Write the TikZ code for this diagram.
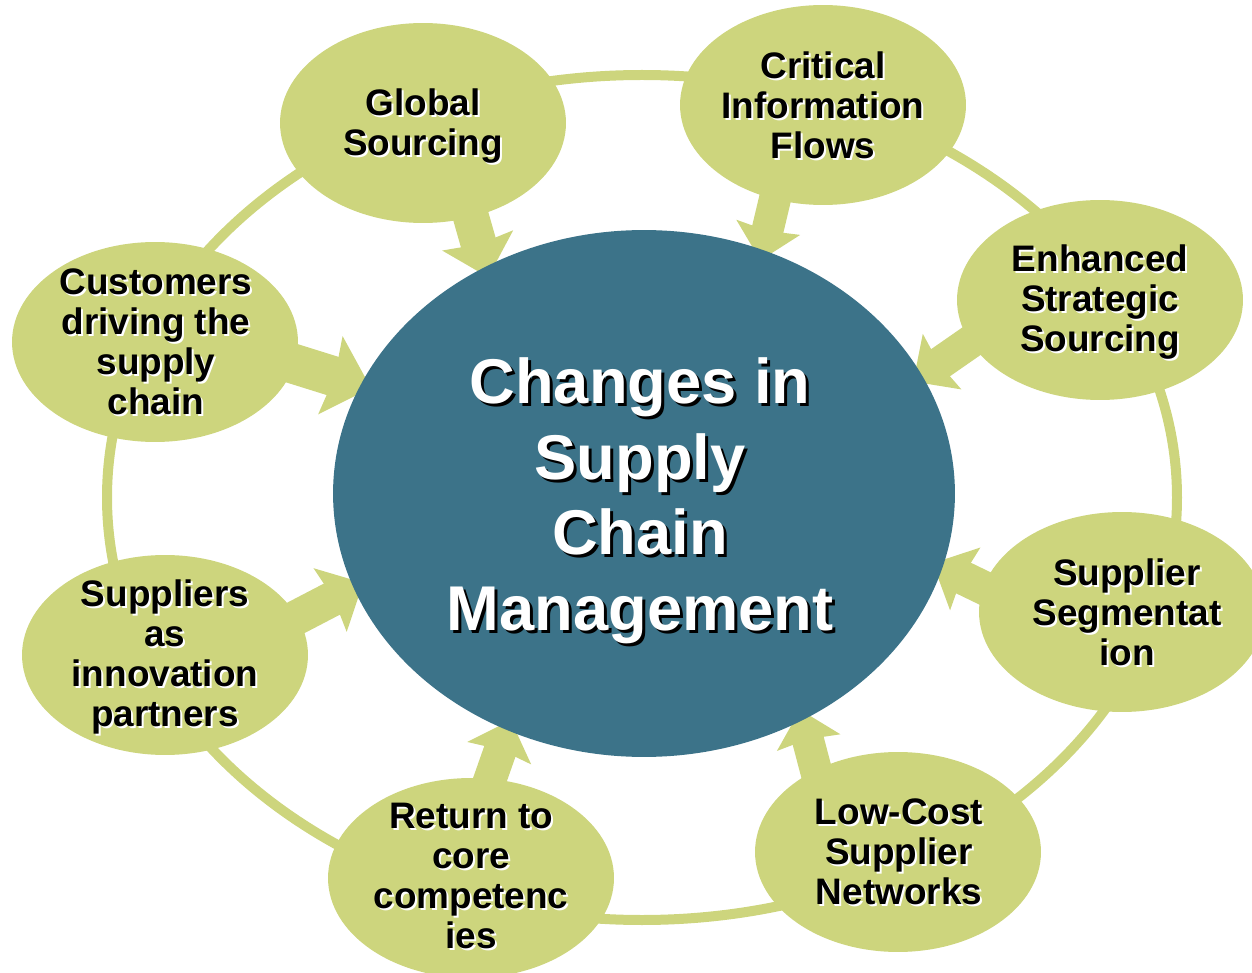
\documentclass[tikz,border=0pt]{standalone}
\usepackage{fontspec}
\setmainfont{Liberation Sans}
\usetikzlibrary{arrows.meta,shapes.geometric}
\definecolor{verde}{HTML}{CDD57D}
\definecolor{petrolio}{HTML}{3C7389}
\pgfdeclarelayer{sotto}
\pgfsetlayers{sotto,main}
\tikzset{
ovale/.style={ellipse,inner sep=0pt,fill=verde,minimum width=5.72cm,minimum height=4cm},
nucleo/.style={ellipse,inner sep=0pt,fill=petrolio,minimum width=12.44cm,minimum height=10.54cm},
anello/.style={draw=verde,line width=0.2cm},
spinta/.style={color=verde,line width=#1*0.02cm,
  -{Stealth[length=0pt 1.05,width=0pt 2.0,inset=0pt 0.1]},
  shorten <=-0.5cm,shorten >=-0.22cm},
testo/.style={align=center,inner sep=0pt,text=black,
  font=\fontsize{21}{22.7}\selectfont\bfseries},
ombra/.style={testo,text=white},
titolo/.style={align=center,inner sep=0pt,text=white,
  font=\fontsize{36}{43}\selectfont\bfseries},
ombratitolo/.style={titolo,text=black}}

\begin{document}
\begin{tikzpicture}[x=0.02cm,y=-0.02cm]

\useasboundingbox (0,0) rectangle (1252,973);

\begin{pgfonlayer}{sotto}
% ring behind everything
\draw[anello] (642,497.5) ellipse [x radius=535,y radius=422.5];

\node[ovale] (gs) at (423,123) {};
\node[ovale] (cif) at (823,105) {};
\node[ovale] (ess) at (1100,300) {};
\node[ovale] (ss) at (1122,612) {};
\node[ovale] (lcs) at (898,852) {};
\node[ovale] (rcc) at (471,878) {};
\node[ovale] (sip) at (165,655) {};
\node[ovale] (cust) at (155,342) {};
\end{pgfonlayer}

\node[nucleo] (scm) at (644,493.5) {};

% arrows, tips hidden under the centre
\begin{pgfonlayer}{sotto}
\path[spinta=36] (gs.-63) edge (scm.125);
\path[spinta=32] (cif.-117) edge (scm.64);
\path[spinta=33] (ess.-162) edge (scm.23);
\path[spinta=34] (ss.170) edge (scm.-14);
\path[spinta=32] (lcs.135) edge (scm.-55);
\path[spinta=33] (rcc.79) edge (scm.-120);
\path[spinta=35] (sip.16) edge (scm.-162);
\path[spinta=40] (cust.-9) edge (scm.159);
\end{pgfonlayer}

% labels
\node[ombratitolo] (scm-o) at ([shift={(3,3)}]640,501) {Changes in\\Supply\\Chain\\Management};
\node[titolo] (scm-t) at (640,501) {Changes in\\Supply\\Chain\\Management};

\node[ombra] (gs-o) at ([shift={(2,5)}]gs) {Global\\Sourcing};
\node[testo] (gs-t) at ([shift={(0,3)}]gs) {Global\\Sourcing};
\node[ombra] (cif-o) at ([shift={(2,2)}]cif) {Critical\\Information\\Flows};
\node[testo] (cif-t) at (cif) {Critical\\Information\\Flows};
\node[ombra] (ess-o) at ([shift={(2,4)}]ess) {Enhanced\\Strategic\\Sourcing};
\node[testo] (ess-t) at ([shift={(0,2)}]ess) {Enhanced\\Strategic\\Sourcing};
\node[ombra] (ss-o) at ([shift={(7,2)}]ss) {Supplier\\Segmentat\\ion};
\node[testo] (ss-t) at ([shift={(5,0)}]ss) {Supplier\\Segmentat\\ion};
\node[ombra] (lcs-o) at ([shift={(3,2)}]lcs) {Low-Cost\\Supplier\\Networks};
\node[testo] (lcs-t) at ([shift={(1,0)}]lcs) {Low-Cost\\Supplier\\Networks};
\node[ombra] (rcc-o) at ([shift={(2,0)}]rcc) {Return to\\core\\competenc\\ies};
\node[testo] (rcc-t) at ([shift={(0,-2)}]rcc) {Return to\\core\\competenc\\ies};
\node[ombra] (sip-o) at ([shift={(2,4)}]sip) {Suppliers\\as\\innovation\\partners};
\node[testo] (sip-t) at ([shift={(0,2)}]sip) {Suppliers\\as\\innovation\\partners};
\node[ombra] (cust-o) at ([shift={(3,2)}]cust) {Customers\\driving the\\supply\\chain};
\node[testo] (cust-t) at ([shift={(1,0)}]cust) {Customers\\driving the\\supply\\chain};

\end{tikzpicture}
\end{document}
